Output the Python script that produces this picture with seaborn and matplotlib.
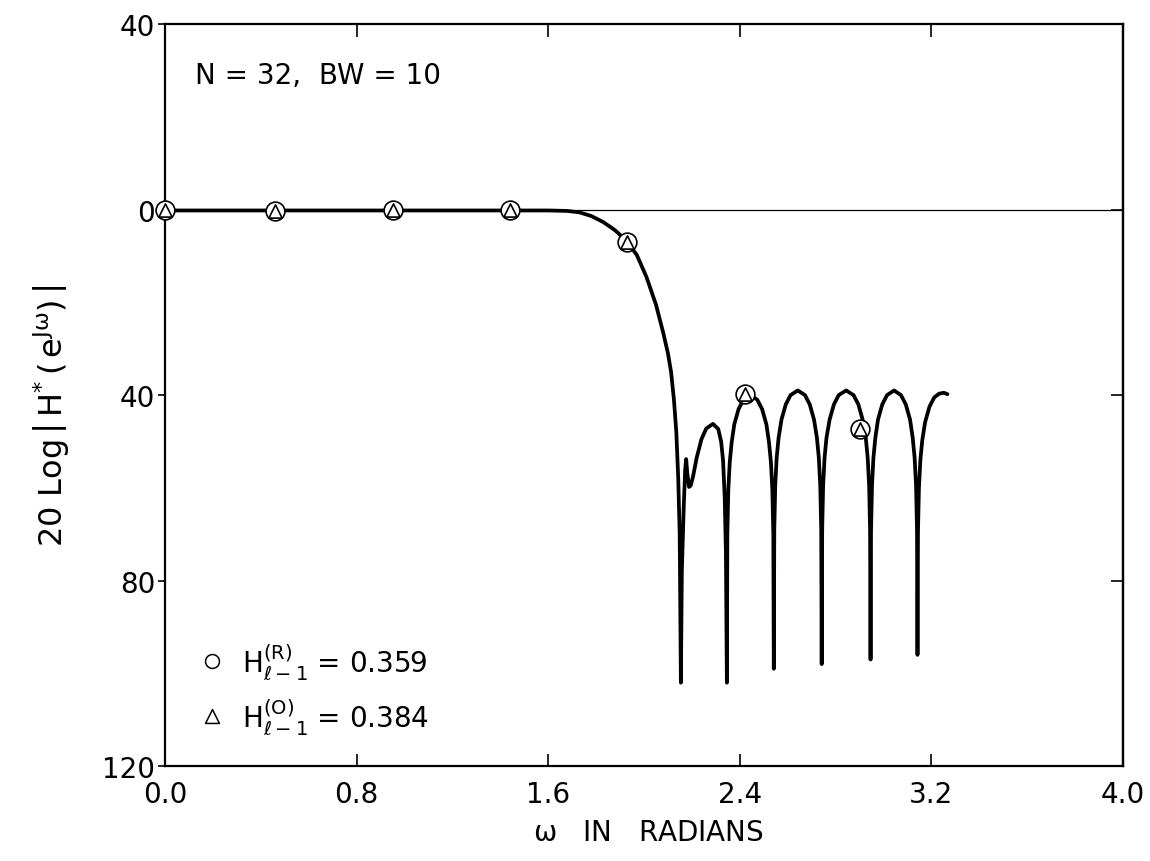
import numpy as np
import pandas as pd
import matplotlib
matplotlib.use("Agg")
import matplotlib.pyplot as plt
import seaborn as sns

# ---- data (omega in radians, attenuation in dB: 20 Log|H*|, plotted downward) ----
pass_w = [0.0, 0.4, 0.8, 1.2, 1.6]
pass_db = [0.2, 0.2, 0.2, 0.2, 0.2]

trans_w = [1.68, 1.73, 1.78, 1.83, 1.88, 1.93, 1.97, 2.01, 2.05, 2.08, 2.10,
           2.113, 2.125, 2.135, 2.143, 2.149]
trans_db = [0.3, 0.6, 1.4, 2.7, 4.5, 6.9, 9.8, 14.5, 20.5, 26.5, 31.0,
            35.0, 41.0, 48.0, 58.0, 70.0]

spike_w = [2.154, 2.158, 2.166, 2.172, 2.176, 2.181, 2.188, 2.195, 2.205, 2.22,
           2.24, 2.26, 2.288, 2.31, 2.322, 2.330, 2.337, 2.342]
spike_db = [102, 78, 64, 56, 53.8, 57, 59.8, 59.5, 57.5, 53.5,
            49.5, 47.2, 46.2, 47.3, 50, 54, 62, 74]

lobe_a_w = [2.346, 2.348, 2.352, 2.358, 2.366, 2.377, 2.395, 2.415, 2.444, 2.473,
            2.493, 2.511, 2.522, 2.530, 2.536, 2.540]
lobe_a_db = [102, 70.1, 60.5, 54.5, 50.2, 46.3, 43.0, 41.0, 40.0, 41.0,
             43.0, 46.3, 50.2, 54.5, 60.5, 70.1]

lobe_b_w = [2.542, 2.544, 2.548, 2.554, 2.562, 2.574, 2.592, 2.612, 2.642, 2.672,
            2.692, 2.710, 2.722, 2.730, 2.736, 2.740]
lobe_b_db = [99, 69.1, 59.5, 53.5, 49.2, 45.3, 42.0, 40.0, 39.0, 40.0,
             42.0, 45.3, 49.2, 53.5, 59.5, 69.1]

lobe_c_w = [2.742, 2.744, 2.748, 2.754, 2.762, 2.775, 2.793, 2.813, 2.844, 2.875,
            2.895, 2.913, 2.926, 2.934, 2.940, 2.944]
lobe_c_db = [98, 69.1, 59.5, 53.5, 49.2, 45.3, 42.0, 40.0, 39.0, 40.0,
             42.0, 45.3, 49.2, 53.5, 59.5, 69.1]

lobe_d_w = [2.946, 2.948, 2.952, 2.958, 2.966, 2.977, 2.995, 3.015, 3.044, 3.073,
            3.093, 3.111, 3.122, 3.130, 3.136, 3.140]
lobe_d_db = [97, 69.1, 59.5, 53.5, 49.2, 45.3, 42.0, 40.0, 39.0, 40.0,
             42.0, 45.3, 49.2, 53.5, 59.5, 69.1]

tail_w = [3.142, 3.144, 3.148, 3.154, 3.162, 3.174, 3.192, 3.212, 3.232, 3.252, 3.267]
tail_db = [96, 69.6, 60.0, 54.0, 49.7, 45.8, 42.5, 40.5, 39.7, 39.5, 39.8]

marker_w = [0.0, 0.46, 0.95, 1.44, 1.93, 2.42, 2.90]
marker_db = [0.0, 0.3, 0.0, 0.0, 6.9, 39.8, 47.3]

xtick_vals = [0.0, 0.8, 1.6, 2.4, 3.2, 4.0]
xtick_labels = ["0.0", "0.8", "1.6", "2.4", "3.2", "4.0"]
ytick_vals = [-40, 0, 40, 80, 120]
ytick_labels = ["40", "0", "40", "80", "120"]

curve = pd.DataFrame({
    "omega": pass_w + trans_w + spike_w + lobe_a_w + lobe_b_w + lobe_c_w + lobe_d_w + tail_w,
    "atten": pass_db + trans_db + spike_db + lobe_a_db + lobe_b_db + lobe_c_db + lobe_d_db + tail_db,
})
marks = pd.DataFrame({"omega": marker_w, "atten": marker_db})

# ---- style ----
sns.set_style("ticks")
plt.rcParams["font.family"] = ["DejaVu Sans"]
plt.rcParams["mathtext.default"] = "regular"
plt.rcParams["axes.linewidth"] = 1.6
for key in ["text.color", "axes.labelcolor", "xtick.color", "ytick.color",
            "axes.edgecolor", "xtick.labelcolor", "ytick.labelcolor"]:
    plt.rcParams[key] = "black"

fig, ax = plt.subplots(figsize=(11.5, 8.62), dpi=100)
fig.subplots_adjust(left=0.1435, right=0.9765, top=0.971, bottom=0.110)

ax.axhline(0, color="black", lw=0.9, zorder=1)
sns.lineplot(data=curve, x="omega", y="atten", ax=ax, color="black", lw=2.7,
             estimator=None, sort=False, zorder=2)
sns.scatterplot(data=marks, x="omega", y="atten", ax=ax, marker="o", s=13.5 ** 2,
                color="white", edgecolor="black", linewidth=1.2, zorder=3, clip_on=False)
sns.scatterplot(data=marks, x="omega", y="atten", ax=ax, marker="^", s=9.5 ** 2,
                color="white", edgecolor="black", linewidth=1.2, zorder=4, clip_on=False)

ax.set_xlim(0, 4)
ax.set_ylim(120, -40)
ax.set_xticks(xtick_vals)
ax.set_xticklabels(xtick_labels)
ax.set_yticks(ytick_vals)
ax.set_yticklabels(ytick_labels)
ax.tick_params(axis="x", direction="in", length=9, width=1.2, top=True, labelsize=20, pad=10,
               colors="black")
ax.tick_params(axis="y", direction="out", length=5, width=1.2, labelsize=20, pad=2,
               colors="black")
sec = ax.secondary_yaxis("right")
sec.set_yticks(ytick_vals)
sec.tick_params(direction="in", length=9, width=1.2, labelright=False)
for s in ax.spines.values():
    s.set_linewidth(1.6)
    s.set_color("black")

ax.set_xlabel(r"$\omega$   IN   RADIANS", fontsize=20, color="black")
ax.xaxis.set_label_coords(0.505, -0.07)
ax.set_ylabel(r"20 Log$\,\left|\,H^{*}\,(\,e^{J\omega})\,\right|$", fontsize=23, color="black")
ax.yaxis.set_label_coords(-0.098, 0.474)

ax.text(0.125, -29, "N = 32,  BW = 10", fontsize=20, ha="left", va="center", color="black")

# legend-like annotation
sns.scatterplot(x=[0.049], y=[0.1415], ax=ax, marker="o", s=10 ** 2, color="white",
                edgecolor="black", linewidth=1.1, transform=ax.transAxes, clip_on=False)
sns.scatterplot(x=[0.049], y=[0.0674], ax=ax, marker="^", s=10 ** 2, color="white",
                edgecolor="black", linewidth=1.1, transform=ax.transAxes, clip_on=False)
ax.text(0.080, 0.1415, r"$H_{\ell-1}^{(R)}$ = 0.359", fontsize=20, transform=ax.transAxes,
        ha="left", va="center", color="black")
ax.text(0.080, 0.0674, r"$H_{\ell-1}^{(O)}$ = 0.384", fontsize=20, transform=ax.transAxes,
        ha="left", va="center", color="black")

ax.set_xlim(0, 4)
ax.set_ylim(120, -40)
fig.savefig("out.png", dpi=100)
